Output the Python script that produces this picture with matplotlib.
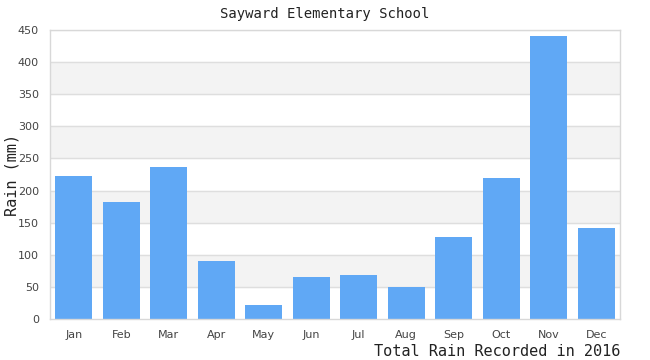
import matplotlib
matplotlib.use("Agg")
from matplotlib import pyplot as plt

months = ["Jan", "Feb", "Mar", "Apr", "May", "Jun",
          "Jul", "Aug", "Sep", "Oct", "Nov", "Dec"]
rain_mm = [223, 182, 237, 90, 22, 65, 68, 50, 128, 220, 441, 142]
y_ticks = [0, 50, 100, 150, 200, 250, 300, 350, 400, 450]

fig = plt.figure(figsize=(6.5, 3.6), dpi=100)
ax = fig.add_axes([50 / 650, 41 / 360, 570 / 650, 289 / 360])

# alternating bands behind the bars
for lo in y_ticks[1::2]:
    ax.axhspan(lo, lo + 50, color="#f3f3f3", zorder=0)
for t in y_ticks[1:-1]:
    ax.axhline(t, color="#dedede", lw=1, zorder=1)

x = range(len(months))
ax.bar(x, rain_mm, width=0.78, color="#60a8f5", zorder=2)

ax.set_xlim(-0.5, len(months) - 0.5)
ax.set_ylim(0, 450)
ax.set_yticks(y_ticks)
ax.set_xticks(list(x))
ax.set_xticklabels(months)
ax.tick_params(length=0, labelsize=8, colors="#444444")
ax.tick_params(axis="y", pad=8)
ax.tick_params(axis="x", pad=8)

for s in ax.spines.values():
    s.set_color("#d8d8d8")
    s.set_linewidth(1)

fig.text(0.5, 1 - 14 / 360, "Sayward Elementary School", ha="center", va="center",
         family="DejaVu Sans Mono", fontsize=10, color="#222222")
fig.text(12 / 650, 1 - 175 / 360, "Rain (mm)", rotation=90, ha="center", va="center",
         family="DejaVu Sans Mono", fontsize=11, color="#222222")
fig.text(620 / 650, 1 - 351 / 360, "Total Rain Recorded in 2016", ha="right", va="center",
         family="DejaVu Sans Mono", fontsize=11, color="#222222")

fig.savefig("out.png", dpi=100)
